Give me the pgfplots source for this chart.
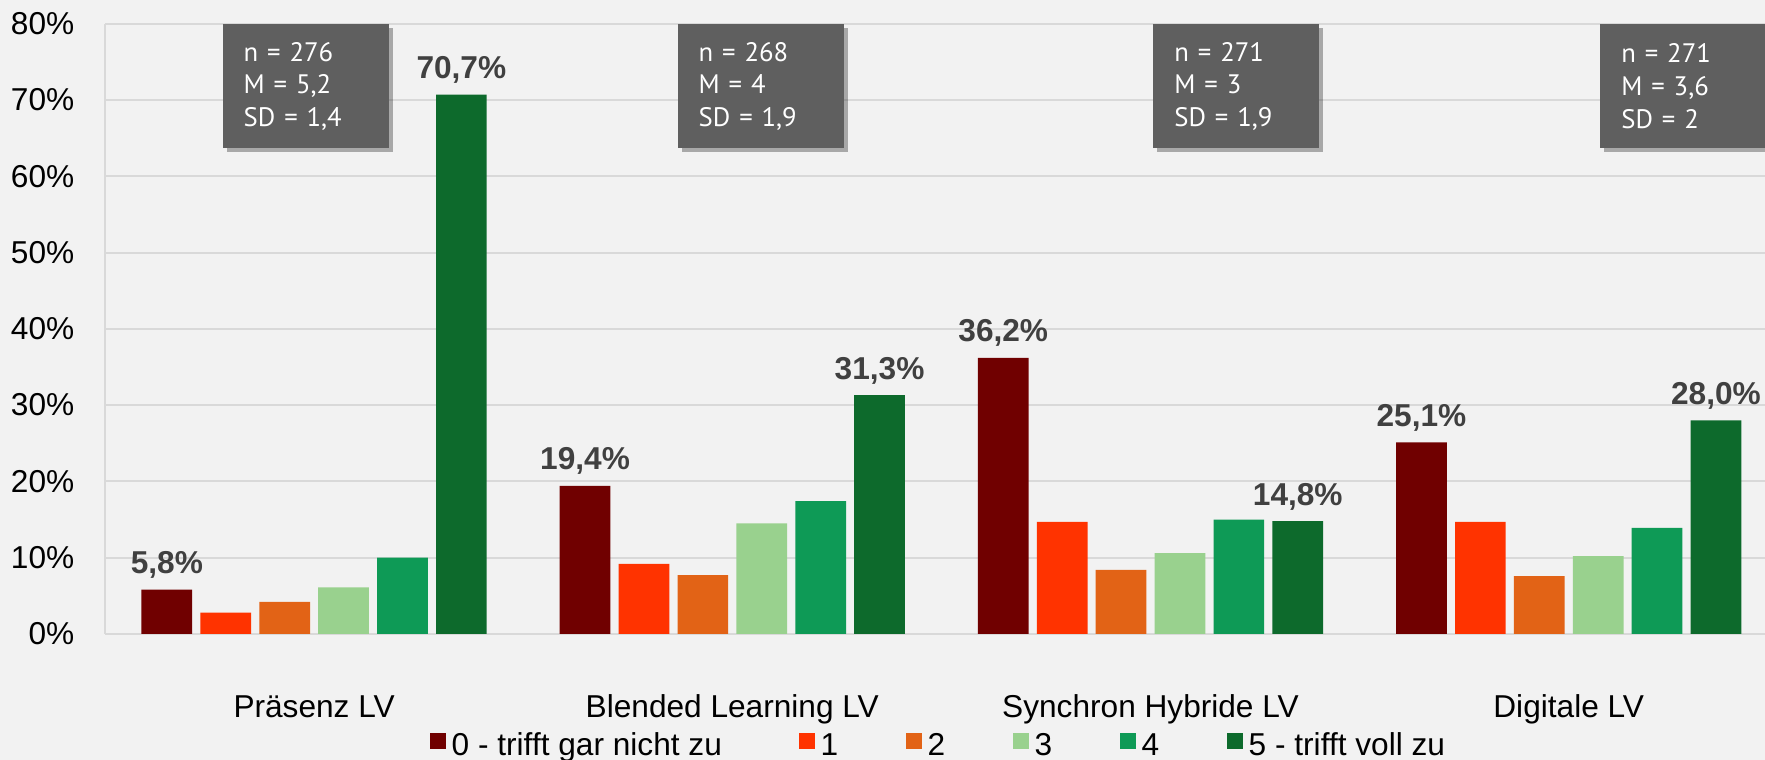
\documentclass[border=0pt]{standalone}
\usepackage{pgfplots}
\pgfplotsset{compat=1.18}
\usepackage{fontspec}
\setmainfont{Liberation Sans}
\newfontfamily\boxfont{PT Sans}
\usetikzlibrary{shadows}
\definecolor{bg}{HTML}{F2F2F2}
\definecolor{gridgray}{HTML}{D9D9D9}
\definecolor{boxgray}{HTML}{5F5F5F}
\definecolor{lblgray}{HTML}{404040}
\definecolor{cA}{HTML}{700000}
\definecolor{cB}{HTML}{FF3300}
\definecolor{cC}{HTML}{E26316}
\definecolor{cD}{HTML}{99D18E}
\definecolor{cE}{HTML}{0E9A56}
\definecolor{cF}{HTML}{0D6A2C}
\begin{document}
\begin{tikzpicture}
\useasboundingbox (0,0) rectangle (17.65,7.6);
\clip (0,0) rectangle (17.65,7.6);
\fill[bg] (0,0) rectangle (17.65,7.6);
\begin{axis}[
  at={(1.05cm,1.26cm)}, anchor=south west,
  scale only axis, width=16.728cm, height=6.104cm,
  xmin=-0.5, xmax=3.5, ymin=0, ymax=80,
  ybar=0.082cm, bar width=0.507cm,
  legend image code/.code={\fill[#1] (0cm,-0.02cm) rectangle (0.16cm,0.14cm); \path (0.22cm,0cm);},
  axis x line*=bottom, axis y line*=left,
  axis line style={draw=gridgray, line width=0.57pt, -},
  major tick length=0pt,
  ytick={0,10,...,80},
  ymajorgrids, grid style={gridgray, line width=0.57pt},
  /pgf/number format/assume math mode=true,
  yticklabel={\pgfmathprintnumber{\tick}\%},
  yticklabel style={anchor=east, inner sep=0pt, xshift=-0.3cm, font=\fontsize{9}{10}\selectfont},
  xtick={0,1,2,3},
  xticklabels={Präsenz LV, Blended Learning LV, Synchron Hybride LV, Digitale LV},
  xticklabel style={anchor=base, inner sep=0pt, yshift=-0.84cm, font=\fontsize{9}{10}\selectfont},
  legend columns=6,
  legend style={at={(0.19369,-0.1851)}, anchor=west, draw=none, fill=none, inner sep=0pt,
    column sep=0pt, nodes={inner sep=0pt}, font=\fontsize{9}{10}\selectfont},
  every node near coord/.append style={anchor=base, inner sep=0pt, yshift=0.16cm, text=lblgray, font=\bfseries\fontsize{9}{10}\selectfont},
  clip=false,
]
\addplot[fill=cA, draw=none, nodes near coords={\pgfmathprintnumber[fixed,fixed zerofill,precision=1,use comma]{\pgfplotspointmeta}\%}]
  coordinates {(0,5.8) (1,19.4) (2,36.2) (3,25.1)};
\addlegendentry{\makebox[3.47cm][l]{0 - trifft gar nicht zu}}
\addplot[fill=cB, draw=none] coordinates {(0,2.8) (1,9.2) (2,14.7) (3,14.7)};
\addlegendentry{\makebox[0.85cm][l]{1}}
\addplot[fill=cC, draw=none] coordinates {(0,4.2) (1,7.7) (2,8.4) (3,7.6)};
\addlegendentry{\makebox[0.85cm][l]{2}}
\addplot[fill=cD, draw=none] coordinates {(0,6.1) (1,14.5) (2,10.6) (3,10.2)};
\addlegendentry{\makebox[0.85cm][l]{3}}
\addplot[fill=cE, draw=none] coordinates {(0,10.0) (1,17.4) (2,15.0) (3,13.9)};
\addlegendentry{\makebox[0.85cm][l]{4}}
\addplot[fill=cF, draw=none, nodes near coords={\pgfmathprintnumber[fixed,fixed zerofill,precision=1,use comma]{\pgfplotspointmeta}\%}]
  coordinates {(0,70.7) (1,31.3) (2,14.8) (3,28.0)};
\addlegendentry{5 - trifft voll zu}
\tikzset{statbox/.style={fill=boxgray, text=white, anchor=north west, align=left,
  font=\boxfont\fontsize{7.6}{9.3}\selectfont, text width=1.24cm, inner xsep=0.21cm, inner ysep=0pt,
  minimum width=1.66cm, minimum height=1.24cm,
  drop shadow={shadow xshift=0.04cm, shadow yshift=-0.04cm, opacity=0.3, fill=black}}}
\node[statbox] at (axis cs:-0.2202,80) {n = 276\\M = 5,2\\SD = 1,4};
\node[statbox] at (axis cs:0.8678,80) {n = 268\\M = 4\\SD = 1,9};
\node[statbox] at (axis cs:2.0053,80) {n = 271\\M = 3\\SD = 1,9};
\node[statbox] at (axis cs:3.0739,80) {n = 271\\M = 3,6\\SD = 2};
\end{axis}
\end{tikzpicture}
\end{document}
